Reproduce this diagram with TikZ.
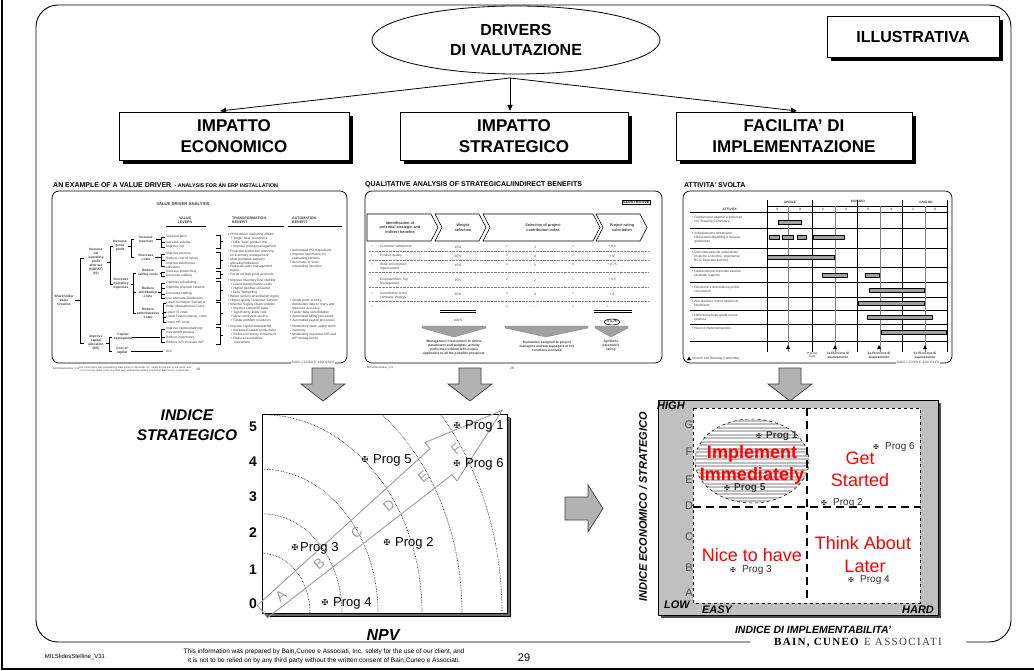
\documentclass[tikz,border=0pt]{standalone}
\usepackage{fontspec}
\setmainfont{Liberation Sans}
\newfontfamily\bainfont{Liberation Serif}
\newfontfamily\symfont{DejaVu Sans}
\usetikzlibrary{shapes.geometric,arrows.meta,shadows}
\newcommand{\myfs}[2]{\fontsize{#1}{#2}\selectfont}
\newcommand{\ddd}{.\kern0.4pt.\kern0.4pt.\kern0.4pt.\kern0.4pt.\kern0.4pt.}
\definecolor{arrgray}{RGB}{178,178,178}
\definecolor{matgray}{RGB}{192,192,192}
\definecolor{bargray}{RGB}{160,160,160}
\definecolor{tg}{RGB}{60,60,60}
\definecolor{myred}{RGB}{255,0,0}
\begin{document}
\begin{tikzpicture}[x=1pt,y=-1pt,
  shbox/.style={draw, line width=0.8pt, fill=white, drop shadow={shadow xshift=4pt, shadow yshift=-4pt, fill=black, opacity=1}},
  topbox/.style={shbox, align=center, font=\bfseries\myfs{17}{21}, minimum height=48pt, inner sep=0pt},
  tt/.style={inner sep=0pt, font=\myfs{3.3}{4}, align=left, anchor=west, text=tg},
  ttc/.style={inner sep=0pt, font=\myfs{3.3}{4}, align=center, text=tg},
  ttb/.style={inner sep=0pt, font=\bfseries\myfs{3.3}{4}, align=center, text=tg},
  thframe/.style={draw, line width=0.7pt, rounded corners=7pt},
  thtitle/.style={inner sep=0pt, anchor=west, font=\bfseries\myfs{7}{8}},
  blockarrow/.style={fill=arrgray, draw=black!75, line width=0.7pt},
  minibain/.style={fill=white, inner sep=1pt, font=\bainfont\myfs{3.4}{4}, text=tg},
  conn/.style={line width=0.8pt, -{Triangle[length=6pt,width=5pt]}},
  gl/.style={line width=0.4pt, black},
  bar/.style={fill=bargray, draw=black, line width=0.4pt},
  prog/.style={inner sep=0pt, font=\myfs{13}{15}, anchor=west},
  sym/.style={inner sep=0pt, font=\symfont\myfs{8}{9}},
  msym/.style={inner sep=0pt, font=\symfont\myfs{6.5}{7}},
  mprog/.style={inner sep=0pt, font=\myfs{10}{12}, anchor=west, text=black!80},
  redtxt/.style={inner sep=0pt, text=myred, font=\myfs{18}{20}},
  axl/.style={inner sep=0pt, font=\bfseries\itshape\myfs{15.5}{17}},
  lett/.style={inner sep=0pt, font=\myfs{11}{12}, text=black!70},
  num/.style={inner sep=0pt, font=\bfseries\myfs{14}{16}}
]
\useasboundingbox (0,0) rectangle (1034,671);
% slide border
\draw[line width=1.2pt] (2,0) -- (2,669) -- (1034,669);
% main frame
\draw[line width=0.9pt, rounded corners=22pt] (750,642) -- (36,642) -- (36,5) -- (1011,5) -- (1011,642) -- (966,642);
\node[inner sep=0pt, font=\bainfont\myfs{11}{12}\addfontfeatures{LetterSpace=12}] (bain) at (858,643) {\textbf{BAIN, CUNEO} \textcolor{black!75}{E ASSOCIATI}};

% ---------------- top level ----------------
\node[draw, ellipse, line width=0.8pt, fill=white, minimum width=288pt, minimum height=68pt, inner sep=0pt, align=center, font=\bfseries\myfs{16}{20}] (drv) at (516,40) {DRIVERS\\DI VALUTAZIONE};
\node[shbox, minimum width=172pt, minimum height=41pt, inner sep=0pt, font=\bfseries\myfs{16}{18}] (ill) at (913,37) {ILLUSTRATIVA};
\node[topbox, minimum width=230pt] (b1) at (234,136) {IMPATTO\\ECONOMICO};
\node[topbox, minimum width=228pt] (b2) at (514,136) {IMPATTO\\STRATEGICO};
\node[topbox, minimum width=236pt] (b3) at (794,136) {FACILITA' DI\\IMPLEMENTAZIONE};
\coordinate (src) at (510,78);
\coordinate (e1) at (220,111);
\coordinate (e2) at (510,111);
\coordinate (e3) at (797,111);
\draw[conn] (src) -- (e1);
\draw[conn] (src) -- (e2);
\draw[conn] (src) -- (e3);

% ---------------- thumbnail 1 ----------------
\node[thtitle] (t1) at (53,185) {AN EXAMPLE OF A VALUE DRIVER {\myfs{5.3}{6} - ANALYSIS FOR AN ERP INSTALLATION}};
\draw[thframe] (52,191) rectangle (347,363);
\node[minibain] at (313,363) {BAIN, CUNEO E ASSOCIATI};
\node[inner sep=0pt, font=\bfseries\myfs{4.2}{5}, text=tg] at (183,204) {VALUE DRIVER ANALYSIS};
\node[ttb, font=\bfseries\myfs{3.6}{4.3}] at (185,220) {VALUE\\LEVERS};
\node[ttb, font=\bfseries\myfs{3.6}{4.3}, align=left, anchor=west] at (232,220) {TRANSFORMATION\\BENEFIT};
\node[ttb, font=\bfseries\myfs{3.6}{4.3}, align=left, anchor=west] at (292,220) {AUTOMATION\\BENEFIT};
\draw[gl, line width=0.6pt] (166,226) -- (206,226) (228,226) -- (284,226) (288,226) -- (342,226);
\node[ttb] at (64,300) {Shareholder\\Value\\Creation};
\node[ttb] at (96,262) {Increase\\net\\operating\\profit\\after tax\\(NOPAT)\\(IS)};
\node[ttb] at (96,343) {Improve\\capital\\allocation\\(BS)};
\node[ttb] at (120,246) {Increase\\gross\\profit};
\node[ttb] at (121,284) {Decrease\\operating\\expenses};
\node[ttb] at (146,239) {Increase\\revenues};
\node[ttb] at (146,257) {Decrease\\costs};
\node[ttb] at (148,273) {Reduce\\selling costs};
\node[ttb] at (148,292) {Reduce\\distribution\\costs};
\node[ttb] at (148,313) {Reduce\\administrative\\costs};
\node[ttb] at (123,337) {Capital\\deployment};
\node[ttb] at (122,351) {Cost of\\capital};
\draw[gl] (75,300) -- (80,300) (84,258) -- (80,258) -- (80,343) -- (84,343);
\draw[gl] (107,262) -- (110,262) (113,246) -- (110,246) -- (110,284) -- (113,284);
\draw[gl] (128,246) -- (131,246) (134,239) -- (131,239) -- (131,257) -- (134,257);
\draw[gl] (131,284) -- (133,284) (136,273) -- (133,273) -- (133,313) -- (136,313) (133,292) -- (136,292);
\draw[gl] (106,343) -- (109,343) (112,337) -- (109,337) -- (109,351) -- (112,351);
\draw[gl] (156,239) -- (161,239) (165,237) -- (161,237) -- (161,247) -- (165,247) (161,242) -- (165,242);
\draw[gl] (155,257) -- (161,257) (165,254) -- (161,254) -- (161,266) -- (165,266) (161,260) -- (165,260);
\draw[gl] (160,273) -- (161,273) (165,272) -- (161,272) -- (161,276) -- (165,276);
\draw[gl] (158,292) -- (161,292) (165,283) -- (161,283) -- (161,298) -- (165,298) (161,288) -- (165,288) (161,294) -- (165,294);
\draw[gl] (162,313) -- (163,313) (166,303) -- (163,303) -- (163,322) -- (166,322) (163,312) -- (166,312) (163,317) -- (166,317);
\draw[gl] (132,337) -- (160,337) (165,329) -- (161,329) -- (161,342) -- (165,342) (161,337) -- (165,337);
\draw[gl] (131,351) -- (163,351);
\node[tt] at (166,237) {Increase price};
\node[tt] at (166,242) {Increase volume};
\node[tt] at (166,247) {Improve mix};
\node[tt] at (166,254) {Improve process};
\node[tt] at (166,259) {Reduce cost of inputs};
\node[tt] at (166,265.5) {Improve warehouse\\utilization};
\node[tt] at (166,272) {Increase productivity};
\node[tt] at (166,276) {Decrease staffing};
\node[tt] at (166,283) {Optimize scheduling};
\node[tt] at (166,288) {Optimize physical network};
\node[tt] at (166,294) {Decrease staffing};
\node[tt] at (166,298) {Use alternate distribution};
\node[tt] at (166,305) {Lower Customer Service \&\\Order Management Costs};
\node[tt] at (166,312) {Lower IS costs};
\node[tt] at (166,317) {Lower Finance/Acctg. costs};
\node[tt] at (166,322) {Lower HR costs};
\node[tt] at (166,330.5) {Improve capital planning/\\investment process};
\node[tt] at (166,337) {Reduce inventories};
\node[tt] at (166,342) {Reduce A/R increase A/P};
\node[tt] at (166,351) {N/A};
\foreach \ya/\yb in {235/248,252/268,271/278,281/300,302/324,327/344}
  \draw[gl, line width=0.6pt] (216,\ya) -- (220,\ya) -- (220,\yb) -- (216,\yb) (220,{(\ya+\yb)/2}) -- (223,{(\ya+\yb)/2});
\node[tt] at (228,241) {• Profit-driven marketing efforts:\\\hspace{3pt}• Target 'best' customers\\\hspace{3pt}• Offer 'best' product mix\\\hspace{3pt}• Improve pricing management};
\node[tt] at (228,257) {• Proactive production planning\\\hspace{2pt}for inventory management\\• Most profitable capacity\\\hspace{2pt}allocation/utilization};
\node[tt] at (228,271) {• Reduced sales management\\\hspace{2pt}layers\\• Focus on high-profit accounts};
\node[tt] at (228,289) {• Improve inventory flow visibility\\\hspace{3pt}• Lower transportation costs\\\hspace{3pt}• Higher facilities utilization\\\hspace{3pt}• Less 'firefighting'\\• Better carrier/consolidation mgmt.};
\node[tt] at (228,311) {• Higher quality Customer Service\\• Improve Supply Chain visibility\\\hspace{3pt}• Improve control/IS rates\\\hspace{3pt}• Significantly lower cost\\\hspace{3pt}• More consistent service\\\hspace{3pt}• Faster problem resolution};
\node[tt] at (228,334) {• Improve capital stewardship\\\hspace{3pt}• Increased capital productivity\\\hspace{3pt}• Reduce inventory investment\\\hspace{3pt}• Reduce receivables\\\hspace{6pt}investment};
\node[tt] at (290,259) {• Automated PO requisitions\\• Improve information for\\\hspace{2pt}evaluating vendors\\• Automatic or semi\\\hspace{2pt}scheduling functions};
\node[tt] at (290,311) {• Single point of entry,\\\hspace{2pt}distribution data to many and\\\hspace{2pt}improves accuracy\\• Faster data consolidation\\• Automated billing processes\\• Automated payroll processes};
\node[tt] at (290,333) {• Moderately lower safety stock\\\hspace{2pt}inventory\\• Moderately improved A/R and\\\hspace{2pt}A/P management};
\node[tt, font=\myfs{2.6}{3}] at (53,369) {MILSlidesStelline\_V31};
\node[ttc, font=\myfs{2.6}{3}] at (135,369) {This information was prepared by Bain,Cuneo e Associati, Inc. solely for the use of our client, and\\it is not to be relied on by any third party without the written consent of Bain,Cuneo e Associati.};
\node[ttc, font=\myfs{3.5}{4}] at (198,369) {49};

% ---------------- thumbnail 2 ----------------
\node[thtitle] (t2) at (365,185) {QUALITATIVE ANALYSIS OF STRATEGICAL/INDIRECT BENEFITS};
\draw[thframe] (365,191) rectangle (662,363);
\node[draw, fill=white, inner sep=0.8pt, font=\bfseries\myfs{3.8}{4.5}, drop shadow={shadow xshift=0.8pt, shadow yshift=-0.8pt, fill=black, opacity=1}] at (636,202) {ILLUSTRATIVE};
\draw[gl, line width=0.6pt, fill=white] (367,214) -- (431,214) -- (438,227.5) -- (431,241) -- (367,241) -- cycle;
\draw[gl, line width=0.6pt, fill=white] (435,214) -- (479,214) -- (486,227.5) -- (479,241) -- (435,241) -- (442,227.5) -- cycle;
\draw[gl, line width=0.6pt, fill=white] (483,214) -- (593,214) -- (600,227.5) -- (593,241) -- (483,241) -- (490,227.5) -- cycle;
\draw[gl, line width=0.6pt, fill=white] (596,214) -- (640,214) -- (647,227.5) -- (640,241) -- (596,241) -- (603,227.5) -- cycle;
\node[ttb, font=\bfseries\myfs{3.8}{4.6}] at (400,227.5) {Identification of\\potential strategic and\\indirect benefits};
\node[ttb, font=\bfseries\myfs{3.8}{4.6}] at (463,227.5) {Weight\\selection};
\node[ttb, font=\bfseries\myfs{3.8}{4.6}] at (543,227.5) {Selection of project\\contribution index};
\node[ttb, font=\bfseries\myfs{3.8}{4.6}] at (622,227.5) {Project rating\\calculation};
\foreach \yy in {251.5,260,272,287,301}
  \draw[gray, line width=0.4pt, densely dotted] (369,\yy) -- (648,\yy);
\foreach \yy/\la/\wa/\ia/\ra in {247/Customer satisfaction/10\%/3/+ 0{,}3, 256/Product quality/30\%/0/+ 0, 265/Work environment\\improvement/15\%/5/+ 0{,}75, 280/Empowerment Top\\Management/25\%/2/+ 0{,}5, 294/Contribution to the\\company strategy/20\%/0/+ 0, 307/\ddd/\ddd/\ddd/+ \ddd}{
  \node[ttc] at (372,\yy) {•};
  \node[tt, anchor=north west] at (380,\yy-1.8) {\la};
  \node[ttc] at (458,\yy) {\wa};
  \node[ttc] at (507,\yy) {x};
  \node[ttc] at (535,\yy) {\ia};
  \node[ttc] at (573,\yy) {=};
  \node[ttc] at (612,\yy) {\ra};
}
\draw[gl] (440,310) -- (476,310) (440,312.5) -- (476,312.5) (594,310) -- (632,310) (594,312.5) -- (632,312.5);
\node[ttc] at (458,320) {100\%};
\node[draw, ellipse, line width=0.6pt, inner sep=0.6pt, font=\bfseries\myfs{3.5}{4}] at (612,322) {= 1,75};
\draw[fill=bargray, draw=gray, line width=0.3pt] (422,326) -- (486,326) -- (486,328) -- (454,337) -- (422,328) -- cycle;
\draw[fill=bargray, draw=gray, line width=0.3pt] (505,326) -- (588,326) -- (588,328) -- (546,337) -- (505,328) -- cycle;
\draw[fill=bargray, draw=gray, line width=0.3pt] (595,326) -- (628,326) -- (628,328) -- (611,337) -- (595,328) -- cycle;
\node[ttb] at (454,348) {Management involvement to define\\parameters and weights: activity\\performed seldom with output\\applicable to all the possible prospects};
\node[ttb] at (547,346) {Evaluation assigned to project\\managers and top managers of the\\functions involved};
\node[ttb] at (611,346) {Synthetic\\parametric\\rating};
\node[tt, font=\myfs{2.6}{3}] at (367,368) {MILSlidesStelline\_V31};
\node[ttc, font=\myfs{3.5}{4}] at (512,368) {28};

% ---------------- thumbnail 3 ----------------
\node[thtitle] (t3) at (684,185) {ATTIVITA' SVOLTA};
\draw[thframe] (683,191) rectangle (952,363);
\node[minibain] at (918,363) {BAIN, CUNEO E ASSOCIATI};
\node[ttb] at (790,202) {APRILE};
\node[ttb] at (858,201) {MAGGIO};
\node[ttb] at (926,202) {GIUGNO};
\node[ttb] at (730,209) {ATTIVITA'};
\foreach \xx/\nn in {777/3,800/4,823/1,846/2,868/3,891/4,913/1,935/2}
  \node[ttb] at (\xx,209) {\nn};
\draw[gl] (767,206) -- (947,206);
\draw[gl, line width=0.8pt] (690,212.5) -- (947,212.5);
\foreach \yy in {228,248,267,282,297,310,324}
  \draw[gl, line width=0.6pt] (690,\yy) -- (947,\yy);
\draw[gl, line width=0.7pt] (690,341) -- (947,341);
\foreach \xx in {788,835,880,925}
  \draw[gray, line width=0.6pt] (\xx,206) -- (\xx,352);
\foreach \xx in {767,812,857,902,947}
  \draw[black, line width=0.7pt] (\xx,200) -- (\xx,352);
\node[tt] at (692,220) {• Condivisione obiettivi e processo\\\hspace{2pt}con Steering Committee};
\node[tt] at (692,238) {• Individuazione dimensioni\\\hspace{2pt}chiave benchmarking e stesura\\\hspace{2pt}questionari};
\node[tt] at (692,257) {• Overview aziende selezionate\\\hspace{2pt}(ricerche a tavolino, esperienze\\\hspace{2pt}BCA, interviste interne)};
\node[tt] at (692,274) {• Realizzazione interviste esterne\\\hspace{2pt}(aziende, esperti)};
\node[tt] at (692,289) {• Revisione e discussione profilo\\\hspace{2pt}concorrenti};
\node[tt] at (692,303) {• Articolazione macro-opzioni di\\\hspace{2pt}riferimento};
\node[tt] at (692,317) {• Definizione linee guida nuova\\\hspace{2pt}struttura};
\node[tt] at (692,329) {• Piano d'implementazione};
\draw[bar] (778,220) rectangle (801,224);
\draw[bar] (769,235) rectangle (779,239);
\draw[bar] (782,235) rectangle (793,239);
\draw[bar] (797,235) rectangle (806,239);
\draw[bar] (813,235) rectangle (844,239);
\draw[bar] (767,255) rectangle (834,259);
\draw[bar] (822,273) rectangle (847,277);
\draw[bar] (865,273) rectangle (879,277);
\draw[bar] (869,288) rectangle (924,292);
\draw[bar] (858,301) rectangle (924,305);
\draw[bar] (867,315) rectangle (932,319);
\draw[bar] (881,330) rectangle (946,334);
\foreach \xx in {788,835,879,925}
  \fill (\xx-2,349) -- (\xx+2,349) -- (\xx,345) -- cycle;
\node[ttc, font=\itshape\myfs{3}{3.6}] at (812,355) {1ª punto\\build};
\node[ttb] at (838,355) {1a Riunione di\\avanzamento};
\node[ttb] at (879,355) {2a Riunione di\\avanzamento};
\node[ttb] at (925,355) {3a Riunione di\\avanzamento};
\fill (687,360) -- (691,360) -- (689,356.5) -- cycle;
\node[tt] at (692,358.5) {Incontri con Steering Committee};

% block arrows down
\foreach \cx in {323,470,790}
  \draw[blockarrow] (\cx-11,368) -- (\cx+11,368) -- (\cx+11,384) -- (\cx+22,384) -- (\cx,401) -- (\cx-22,384) -- (\cx-11,384) -- cycle;

% ---------------- left chart ----------------
\node[axl] (is1) at (187,415) {INDICE};
\node[axl] (is2) at (187,435) {STRATEGICO};
\node[shbox, minimum width=245pt, minimum height=199pt, inner sep=0pt, line width=0.9pt,
  drop shadow={shadow xshift=3pt, shadow yshift=-3pt, fill=black!60, opacity=1}] (plot) at (384.5,513.5) {};
\begin{scope}
  \clip (262,414) rectangle (507,613);
  \foreach \rr in {48,80,116,160,200,240}
    \draw[black, line width=0.6pt, densely dotted] (262,613) ellipse [x radius=\rr, y radius={1.24*\rr}];
\end{scope}
\begin{scope}[shift={(262.5,611.5)}, rotate=40]
  \draw[gray!75, line width=0.9pt] (0,-8) -- (233,-17) -- (233,-25) -- (313,0) -- (233,25) -- (233,17) -- (0,8) -- cycle;
  \foreach \uu/\ll in {24/A,74/B,123/C,165/D,210/E,253/F}
    \node[inner sep=0pt, rotate=40, text=gray!75, font=\myfs{14}{16}] at (\uu,0) {\ll};
\end{scope}
\foreach \yy/\nn in {427/5,462/4,497/3,533/2,570/1,604/0}
  \node[num] at (253,\yy) {\nn};
\node[axl, font=\bfseries\itshape\myfs{16}{18}] (npv) at (383,635) {NPV};
\node[sym] (s1) at (457,426) {✠};  \node[prog] at (465,426) {Prog 1};
\node[sym] (s5) at (365,460) {✠};  \node[prog] at (373,460) {Prog 5};
\node[sym] (s6) at (457,464) {✠};  \node[prog] at (465,464) {Prog 6};
\node[sym] (s3) at (295,548) {✠};  \node[prog] at (300,548) {Prog 3};
\node[sym] (s2) at (387,543) {✠};  \node[prog] at (395,543) {Prog 2};
\node[sym] (s4) at (325,603) {✠};  \node[prog] at (333,603) {Prog 4};

% ---------------- right arrow ----------------
\draw[blockarrow] (565,497) -- (588,497) -- (588,485) -- (603,508.5) -- (588,532) -- (588,520) -- (565,520) -- cycle;

% ---------------- matrix ----------------
\fill[black!70] (661,403) rectangle (941,618);
\draw[fill=matgray, line width=0.8pt] (658,400) rectangle (938,615);
\draw[fill=white, dashed, line width=0.6pt] (693,408) rectangle (920,603);
\begin{scope}
  \clip (752,461) ellipse [x radius=57, y radius=42];
  \fill[black!25] (690,415) rectangle (815,510);
  \foreach \yy in {419,422.5,...,505}
    \draw[white, line width=1.2pt] (690,\yy) -- (815,\yy);
\end{scope}
\draw[dashed, line width=0.5pt] (752,461) ellipse [x radius=57, y radius=42];
\draw[line width=2pt, dash pattern=on 8pt off 5pt] (807,408) -- (807,603);
\draw[line width=2pt, dash pattern=on 8pt off 5pt] (693,507) -- (920,507);
\foreach \yy/\ll in {425/G,452/F,480/E,506/D,537/C,568/B,593/A}
  \node[lett] at (689,\yy) {\ll};
\node[inner sep=0pt, anchor=west, font=\bfseries\itshape\myfs{11}{12}] at (657,406) {HIGH};
\node[inner sep=0pt, font=\bfseries\itshape\myfs{11}{12}] at (677,605) {LOW};
\node[inner sep=0pt, font=\bfseries\itshape\myfs{11}{12}] at (717,610) {EASY};
\node[inner sep=0pt, font=\bfseries\itshape\myfs{11}{12}] at (918,610) {HARD};
\node[inner sep=0pt, rotate=90, font=\bfseries\itshape\myfs{11}{12}] at (643,507) {INDICE ECONOMICO / STRATEGICO};
\node[inner sep=0pt, font=\bfseries\itshape\myfs{10.5}{12}] at (813,630) {INDICE DI IMPLEMENTABILITA'};
\node[redtxt, font=\bfseries\myfs{18}{20}] at (752,454) {Implement};
\node[redtxt, font=\bfseries\myfs{18}{20}] at (752,476) {Immediately};
\node[redtxt] at (860,458) {Get};
\node[redtxt] at (860,480) {Started};
\node[redtxt] at (752,555) {Nice to have};
\node[redtxt] at (863,543) {Think About};
\node[redtxt] at (865,566) {Later};
\node[msym] at (759,436) {✠}; \node[mprog, font=\bfseries\myfs{10}{12}] at (766,436) {Prog 1};
\node[msym] at (727,488) {✠}; \node[mprog, font=\bfseries\myfs{10}{12}] at (734,488) {Prog 5};
\node[msym] at (876,447) {✠}; \node[mprog] at (885,447) {Prog 6};
\node[msym] at (824,503) {✠}; \node[mprog] at (833,503) {Prog 2};
\node[msym] at (733,570) {✠}; \node[mprog] at (742,570) {Prog 3};
\node[msym] at (851,580) {✠}; \node[mprog] at (860,580) {Prog 4};

% ---------------- footer ----------------
\node[inner sep=0pt, font=\myfs{6}{7}] at (75,657) {MILSlidesStelline\_V31};
\node[inner sep=0pt, align=center, font=\myfs{6.5}{8.5}] at (324,656.5) {This information was prepared by Bain,Cuneo e Associati, Inc. solely for the use of our client, and\\it is not to be relied on by any third party without the written consent of Bain,Cuneo e Associati.};
\node[inner sep=0pt, font=\myfs{11}{12}] at (524,658) {29};
\end{tikzpicture}
\end{document}
